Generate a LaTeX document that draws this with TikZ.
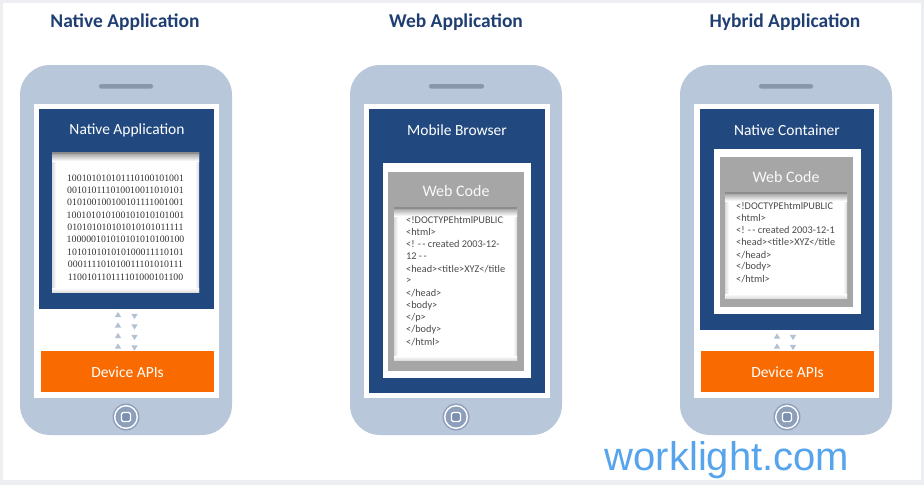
\documentclass[tikz,border=0pt]{standalone}
\usepackage{fontspec}
\setmainfont{Carlito}
\newfontfamily\binfont{Liberation Serif}
\newfontfamily\urlfont{Liberation Sans}
\newfontfamily\codefont{Carlito}
\definecolor{framec}{HTML}{ECEEF2}
\definecolor{phonec}{HTML}{B9C7DA}
\definecolor{speakerc}{HTML}{8A96AA}
\definecolor{navyc}{HTML}{21497F}
\definecolor{headc}{HTML}{1F3F73}
\definecolor{orangec}{HTML}{F96A00}
\definecolor{grayc}{HTML}{A6A6A6}
\definecolor{homec}{HTML}{8E9FBC}
\definecolor{homeinc}{HTML}{7D8FB0}
\definecolor{arrowc}{HTML}{B4C1D2}
\definecolor{urlc}{HTML}{56A5EC}
\definecolor{codec}{HTML}{4A4A4A}
\tikzset{
  heading/.style={font=\bfseries\fontsize{19.5}{19.5}\selectfont, text=headc, inner sep=0pt},
  boxtitle/.style={font=\fontsize{15.5}{15.5}\selectfont, text=white, inner sep=0pt},
  webtitle/.style={font=\fontsize{16}{16}\selectfont, text=white!95!gray, inner sep=0pt},
  apititle/.style={font=\fontsize{15.5}{15.5}\selectfont, text=white, inner sep=0pt},
  binline/.style={font=\binfont\fontsize{9.8}{9.8}\selectfont, text=black!80, inner sep=0pt},
  codeline/.style={font=\codefont\fontsize{10.3}{10.3}\selectfont, text=codec, inner sep=0pt, anchor=west},
}
\newcommand\phonebody[9]{% bodyL bodyR spkL spkR scrL scrR homeX
  \fill[phonec, rounded corners=30pt] (#1,65) rectangle (#2,435);
  \fill[speakerc, rounded corners=2pt] (#3,84) rectangle (#4,88.5);
  \fill[white] (#5,104) rectangle (#6,398);
  \fill[homec] (#7,417) circle (13.5pt);
  \draw[white, line width=1.4pt] (#7,417) circle (11.3pt);
  \draw[white, line width=1.3pt, fill=homeinc, rounded corners=1.5pt] (#7-4.5,412.5) rectangle (#7+4.5,421.5);
}
\newcommand\insetbox[4]{%
  \fill[white] (#1,#2) rectangle (#3,#4);
  \shade[left color=black!14, right color=white] (#1,#2) rectangle (#1+4,#4);
  \shade[right color=black!14, left color=white] (#3-4,#2) rectangle (#3,#4);
  \shade[bottom color=black!12, top color=white] (#1,#4-4) rectangle (#3,#4);
  \shade[top color=black!42, bottom color=white] (#1,#2) rectangle (#3,#2+9);
  \fill[black!45] (#1,#2) rectangle (#3,#2+1.5);
}
\newcommand\uptri[2]{\fill[arrowc] (#1-3.2,#2+2.6) -- (#1+3.2,#2+2.6) -- (#1,#2-2.6) -- cycle;}
\newcommand\dntri[2]{\fill[arrowc] (#1-3.2,#2-2.6) -- (#1+3.2,#2-2.6) -- (#1,#2+2.6) -- cycle;}
\newcommand\dd{-\kern1.5pt-}
\begin{document}
\begin{tikzpicture}[x=1pt,y=-1pt]
\fill[framec] (0,0) rectangle (924,485);
\fill[white] (3,3) rectangle (921,480);
\useasboundingbox (0,0) rectangle (924,485);

% headings
\node[heading] (h1) at (125,22) {Native Application};
\node[heading] (h2) at (456,22) {Web Application};
\node[heading] (h3) at (785,22) {Hybrid Application};

% ---------- phone 1 : native
\phonebody{20}{232}{99}{153}{34}{219}{126}{}{}
\fill[navyc] (39,109) rectangle (214,309);
\node[boxtitle] (t1) at (127,130) {Native Application};
\insetbox{52}{152}{199}{292}
\foreach \s [count=\i] in {100101010101110100101001,001010111010010011010101,010100100100101111001001,100101010100101010101001,010101010101010101011111,100000101010101010100100,101010101010100011110101,000111101010011101010111,110010110111101000101100}
  \node[binline] (b\i) at (125.5,{178+(\i-1)*12.35}) {\s};
\foreach \y in {314.5,325,335.5,346} {\uptri{118}{\y}}
\foreach \y in {316.5,327,337.5,348} {\dntri{134.5}{\y}}
\fill[orangec] (41,351) rectangle (214,392);
\node[apititle] (a1) at (127.5,372) {Device APIs};

% ---------- phone 2 : web
\phonebody{350}{562}{429}{484}{364}{550}{456}{}{}
\fill[navyc] (369,109) rectangle (545,393);
\node[boxtitle] (t2) at (457,130) {Mobile Browser};
\fill[white] (383,163) rectangle (531,378);
\fill[grayc] (388,172) rectangle (524,371);
\node[webtitle] (w2) at (456,191) {Web Code};
\insetbox{394}{207}{517}{360}
\foreach \s [count=\i] in {{<!DOCTYPEhtmlPUBLIC},{<html>},{<! \dd\ created 2003-12-},{12 \dd},{<head><title>XYZ</title},{>},{</head>},{<body>},{</p>},{</body>},{</html>}}
  \node[codeline] (c\i) at (406,{220+(\i-1)*12.2}) {\s};

% ---------- phone 3 : hybrid
\phonebody{680}{892}{759}{813}{694}{879}{787}{}{}
\fill[navyc] (700,109) rectangle (874,330);
\node[boxtitle] (t3) at (787,130) {Native Container};
\fill[white] (714,149) rectangle (861,314);
\fill[grayc] (720,157) rectangle (853,307);
\node[webtitle] (w3) at (786,177) {Web Code};
\insetbox{725}{192}{847}{298}
\foreach \s [count=\i] in {{<!DOCTYPEhtmlPUBLIC},{<html>},{<! \dd\ created 2003-12-1},{<head><title>XYZ</title},{</head>},{</body>},{</html>}}
  \node[codeline] (d\i) at (736,{206+(\i-1)*12.2}) {\s};
\foreach \y in {336,346} {\uptri{777}{\y}}
\foreach \y in {337.5,347.5} {\dntri{793}{\y}}
\fill[orangec] (701,351) rectangle (874,392);
\node[apititle] (a3) at (787.5,372) {Device APIs};

% url
\node[font=\urlfont\fontsize{40}{40}\selectfont, text=urlc, inner sep=0pt, anchor=base] (url) at (727,470) {worklight.com};
\end{tikzpicture}
\end{document}
